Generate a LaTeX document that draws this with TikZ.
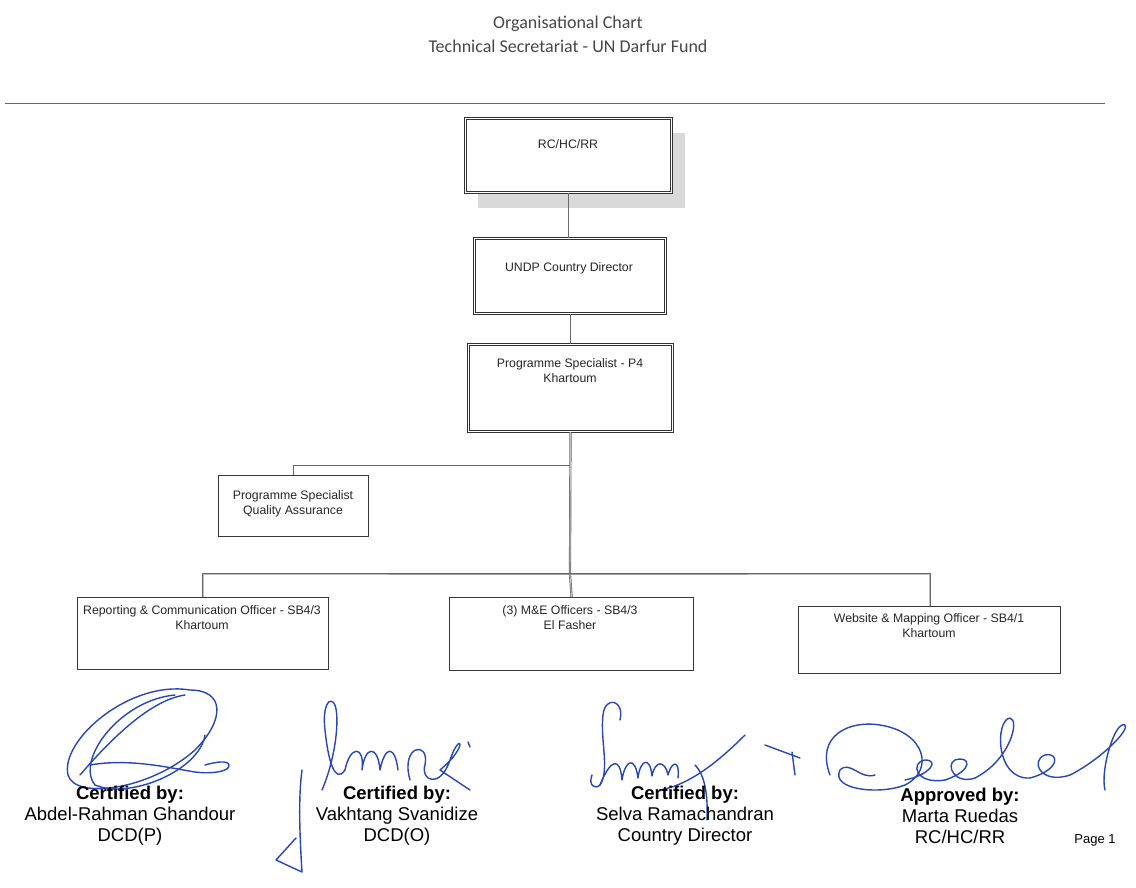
\documentclass[tikz,border=0pt]{standalone}
\usepackage{fontspec}
\setmainfont{Liberation Sans}
\newfontfamily\titlefont{Carlito}
\definecolor{sigblue}{RGB}{40,70,180}
\tikzset{
 dbox/.style={draw=black!80, line width=1pt, double=white, double distance=1.6pt, fill=white, inner sep=0pt, anchor=north west},
 sbox/.style={draw=black!78, line width=1.2pt, fill=white, inner sep=0pt, anchor=north west},
 lbl/.style={font=\fontsize{12.3}{15}\selectfont, text=black!85, align=center, inner sep=0pt},
 conn/.style={draw=black!58, line width=0.8pt},
 bus/.style={draw=black!60, line width=0.65pt, double=black!25, double distance=0.9pt},
 sig/.style={draw=sigblue, line width=1.4pt, line cap=round, line join=round},
 titletxt/.style={font=\titlefont\fontsize{18}{24}\selectfont, text=black!72, align=center},
 signame/.style={font=\fontsize{18.5}{21}\selectfont, align=center, inner sep=0pt}
}
\begin{document}
\begin{tikzpicture}[x=1pt,y=-1pt]
\useasboundingbox (0,0) rectangle (1136,887);
\fill[white] (0,0) rectangle (1136,887);
% title
\node[titletxt] (title) at (568,34) {Organisational Chart\\Technical Secretariat - UN Darfur Fund};
\draw[black!60, line width=1pt] (5,103) -- (1105,103);
% boxes
\fill[black!15] (478,133) rectangle (685,208);
\node[dbox, minimum width=206pt, minimum height=74pt] (rc) at (465,118) {};
\node[lbl] (rct) at (568,144) {RC/HC/RR};
\node[dbox, minimum width=191pt, minimum height=75pt] (undp) at (474,238) {};
\node[lbl] (undpt) at (569,268) {UNDP Country Director};
\node[dbox, minimum width=204pt, minimum height=87pt] (p4) at (468,344) {};
\node[lbl] (p4t) at (570,371) {Programme Specialist - P4\\Khartoum};
\node[sbox, minimum width=150pt, minimum height=61pt] (qa) at (218,475) {};
\node[lbl] (qat) at (293,504) {Programme Specialist\\Quality Assurance};
\node[sbox, minimum width=251pt, minimum height=72pt] (rep) at (77,597) {};
\node[lbl] (rept) at (202,618) {Reporting \& Communication Officer - SB4/3\\Khartoum};
\node[sbox, minimum width=244pt, minimum height=73pt] (me) at (449,597) {};
\node[lbl] (met) at (570,618) {(3) M\&E Officers - SB4/3\\El Fasher};
\node[sbox, minimum width=262pt, minimum height=67pt] (web) at (798,606) {};
\node[lbl] (webt) at (929,626) {Website \& Mapping Officer - SB4/1\\Khartoum};
% connectors
\coordinate (busP) at (570,574);
\coordinate (qaj) at (570,465);
\draw[conn] (rc.south) -- (rc.south |- undp.north);
\draw[conn] (undp.south) -- (undp.south |- p4.north);
\draw[conn] (qaj) -| (qa.north);
\draw[bus] (p4.south) -- (busP);
\draw[bus] (rep.north) |- (busP) -| (web.north);
\draw[bus] (busP) -- (me.north);
% signatures
\draw[sig] (190,690) .. controls (130,680) and (60,740) .. (68,775) .. controls (75,800) and (150,790) .. (195,750) .. controls (225,720) and (225,690) .. (190,690);
\draw[sig] (175,695) .. controls (120,700) and (75,760) .. (95,785) .. controls (130,800) and (200,770) .. (205,735);
\draw[sig] (80,775) .. controls (110,740) and (150,700) .. (185,695);
\draw[sig] (90,765) .. controls (130,758) and (170,768) .. (195,772) .. controls (210,774) and (230,772) .. (229,765) .. controls (228,760) and (215,762) .. (205,765);
\draw[sig] (302,770) .. controls (298,800) and (300,840) .. (302,872) -- (276,860) -- (296,838);
\draw[sig] (322,790) .. controls (335,760) and (340,720) .. (335,705) .. controls (330,695) and (322,705) .. (325,730) .. controls (328,760) and (335,785) .. (345,770);
\draw[sig] (345,770) .. controls (350,745) and (365,745) .. (362,770) .. controls (365,745) and (378,745) .. (380,770) .. controls (385,745) and (395,745) .. (398,770);
\draw[sig] (410,780) .. controls (400,745) and (430,740) .. (425,765) .. controls (420,780) and (440,790) .. (450,760) .. controls (460,730) and (470,745) .. (440,770) -- (470,790);
\draw[sig] (468,742) -- (470,747);
\draw[sig] (620,720) .. controls (625,700) and (605,695) .. (603,715) .. controls (600,740) and (610,770) .. (600,785) .. controls (595,790) and (588,785) .. (592,775);
\draw[sig] (600,785) .. controls (610,760) and (620,755) .. (622,780) .. controls (625,760) and (635,755) .. (638,778) .. controls (640,760) and (650,755) .. (652,776) .. controls (655,760) and (665,760) .. (668,775) .. controls (672,760) and (680,760) .. (678,778);
\draw[sig] (660,790) .. controls (690,785) and (720,760) .. (745,735);
\draw[sig] (695,765) .. controls (705,775) and (708,795) .. (707,820);
\draw[sig] (765,745) -- (800,758);
\draw[sig] (792,752) -- (795,775);
\draw[sig] (830,775) .. controls (815,735) and (850,720) .. (880,725) .. controls (925,732) and (935,770) .. (905,785) .. controls (880,795) and (830,790) .. (840,770) .. controls (850,760) and (860,780) .. (875,775);
\draw[sig] (905,780) .. controls (930,775) and (940,760) .. (925,760) .. controls (910,762) and (915,785) .. (945,780);
\draw[sig] (945,780) .. controls (975,770) and (970,755) .. (955,760) .. controls (945,765) and (955,785) .. (975,778);
\draw[sig] (975,778) .. controls (1010,760) and (1020,720) .. (1010,718) .. controls (995,720) and (995,780) .. (1030,778);
\draw[sig] (1030,778) .. controls (1060,770) and (1060,752) .. (1045,755) .. controls (1030,760) and (1040,785) .. (1070,775);
\draw[sig] (1070,775) .. controls (1100,760) and (1130,730) .. (1125,725) .. controls (1115,720) and (1100,770) .. (1105,790);
% signature texts
\node[signame] (s1) at (130,816) {\textbf{Certified by:}\\Abdel-Rahman Ghandour\\DCD(P)};
\node[signame] (s2) at (397,816) {\textbf{Certified by:}\\Vakhtang Svanidize\\DCD(O)};
\node[signame] (s3) at (685,816) {\textbf{Certified by:}\\Selva Ramachandran\\Country Director};
\node[signame] (s4) at (960,816) {\textbf{Approved by:}\\Marta Ruedas\\RC/HC/RR};
\node[font=\fontsize{13}{15}\selectfont, inner sep=0pt] (pg) at (1095,840) {Page 1};
\end{tikzpicture}
\end{document}
